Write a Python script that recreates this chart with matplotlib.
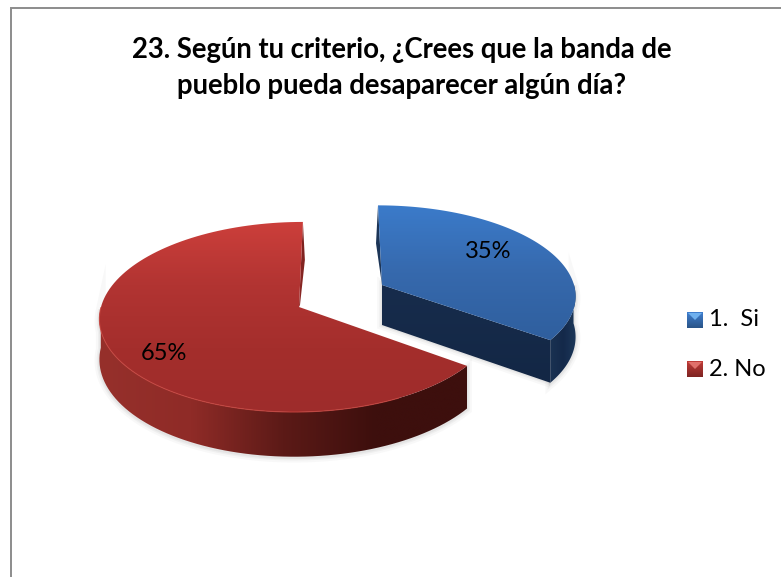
import numpy as np
import matplotlib
matplotlib.use('Agg')
import matplotlib.pyplot as plt
from matplotlib.patches import Polygon, Rectangle
from matplotlib.colors import LinearSegmentedColormap

title_lines = ['23. Según tu criterio, ¿Crees que la banda de',
               'pueblo pueda desaparecer algún día?']
categories = ['1.  Si', '2. No']
values = [35, 65]

W, H = 781, 577
VX = 340      # vanishing point for the perspective
K = 0.105
DEPTH = 40

plt.rcParams['font.family'] = ['Lato', 'DejaVu Sans']


def project(cx, cy, a, b, u, v, drop=0.0):
    """maps a point of the pie disc (u,v in unit circle) to pixels"""
    f = 1 / (1 - K * v)
    return VX + (cx - VX + a * u) * f, cy + (b * v + drop) * f


def arc(theta0, theta1, n=120):
    t = np.radians(np.linspace(theta0, theta1, n))
    return np.sin(t), np.cos(t) * -1


def gradient_fill(ax, pts, colors, vertical=True, zorder=2):
    pts = np.asarray(pts)
    cmap = LinearSegmentedColormap.from_list('g', colors)
    x0, x1 = pts[:, 0].min(), pts[:, 0].max()
    y0, y1 = pts[:, 1].min(), pts[:, 1].max()
    grad = np.linspace(0, 1, 256).reshape(-1, 1) if vertical else np.linspace(0, 1, 256).reshape(1, -1)
    im = ax.imshow(grad, cmap=cmap, extent=(x0, x1, y1, y0), aspect='auto', zorder=zorder, interpolation='bilinear')
    patch = Polygon(pts, closed=True, transform=ax.transData, fc='none', ec='none')
    ax.add_patch(patch)
    im.set_clip_path(patch)


def shadow(ax, pts, zorder=1):
    # soft grey edge around the pie
    for lw, alpha in [(7, 0.05), (4, 0.07), (2, 0.09)]:
        ax.add_patch(Polygon(pts, closed=True, fc='none', ec='#808080', lw=lw, alpha=alpha, zorder=zorder))


def draw_slice(ax, start, end, cx, cy, a, b, side_cols):
    u, v = arc(start, end)
    tx, ty = project(cx, cy, a, b, u, v)
    ax0, ay0 = project(cx, cy, a, b, 0, 0)
    bx, by = project(cx, cy, a, b, u, v, DEPTH)

    # outer wall, only the part turned to the viewer
    front = v > -0.02
    wall = np.r_[np.c_[tx[front], ty[front]], np.c_[bx[front], by[front]][::-1]]
    shadow(ax, np.r_[np.c_[tx[front], ty[front] + 2], np.c_[bx[front], by[front] + 1][::-1]])
    gradient_fill(ax, wall, side_cols, vertical=False, zorder=2)

    return tx, ty, bx, by, ax0, ay0


def main():
    fig = plt.figure(figsize=(W / 100, H / 100), dpi=100)
    ax = fig.add_axes([0, 0, 1, 1])

    # chart frame, cut by the picture at right and bottom
    ax.add_patch(Rectangle((11, 8), 900, 900, fc='white', ec='#8c8c8c', lw=1.4, zorder=0))

    for i, line in enumerate(title_lines):
        ax.text(402, 50 + i * 36, line, ha='center', va='center', fontsize=19.8, fontweight='bold', color='black')

    # angles come from the values, clockwise from 12 o'clock
    blue_end = 360 * values[0] / sum(values)

    # red slice
    tx, ty, bx, by, ax0, ay0 = draw_slice(ax, blue_end, 360, 299, 307, 198, 94,
                                          ['#96302b', '#8f2b27', '#5c1a17', '#3d0f0d', '#3d0f0d'])
    # thin cut face next to the 12 o'clock edge
    gradient_fill(ax, [(tx[-1], ty[-1]), (ax0, ay0), (ax0 + 1, ay0 - 2), (tx[-1] + 2, ty[-1] + 38)],
                  ['#7a211e', '#8c2825'], zorder=2)
    top = np.r_[np.c_[tx, ty], [[ax0, ay0]]]
    gradient_fill(ax, top, ['#cc3f3b', '#b23432', '#a42e2c', '#9e2c2b'], zorder=3)
    rim = (tx < 400) & (ty > 307)
    ax.plot(tx[rim], ty[rim], color='#c8453f', lw=0.8, zorder=4, alpha=0.8)

    # blue slice, pulled out
    tx, ty, bx, by, ax0, ay0 = draw_slice(ax, 0, blue_end, 382, 285, 192, 88, ['#1a3252', '#14294a', '#1c3759'])
    cut = [(ax0, ay0), (tx[-1], ty[-1]), (bx[-1], by[-1]), (ax0, ay0 + DEPTH)]
    shadow(ax, np.array(cut[2:] + cut[:1]))
    gradient_fill(ax, cut, ['#172c4c', '#132745'], zorder=3)
    # back face showing left of the 12 o'clock edge
    ax.add_patch(Polygon([(tx[0], ty[0]), (tx[0] - 2, ty[0] + 38), (ax0, ay0)], fc='#1c3557', ec='none', zorder=2))
    top = np.r_[np.c_[tx, ty], [[ax0, ay0]]]
    gradient_fill(ax, top, ['#3b7bca', '#3669ad', '#2f5f9e'], zorder=4)

    # data labels
    ax.text(488, 252, f'{values[0]}%', ha='center', va='center', fontsize=17, color='black', zorder=6)
    ax.text(164, 353, f'{values[1]}%', ha='center', va='center', fontsize=17, color='black', zorder=6)

    # legend
    keys = [('#3f7fd0', '#2a5487', '#6fb0ee'), ('#c23c38', '#7d2422', '#e0706a')]
    for i, name in enumerate(categories):
        ytop = 312 + i * 49
        gradient_fill(ax, [(687, ytop), (703, ytop), (703, ytop + 16), (687, ytop + 16)],
                      [keys[i][0], keys[i][1]], zorder=5)
        ax.add_patch(Polygon([(688, ytop + 1), (702, ytop + 1), (695, ytop + 8)], fc=keys[i][2], ec='none', zorder=6))
        ax.text(709, ytop + 8, name, ha='left', va='center', fontsize=17, color='black', zorder=6)

    ax.set_xlim(0, W)
    ax.set_ylim(H, 0)
    ax.axis('off')
    fig.savefig('out.png', dpi=100)


main()
